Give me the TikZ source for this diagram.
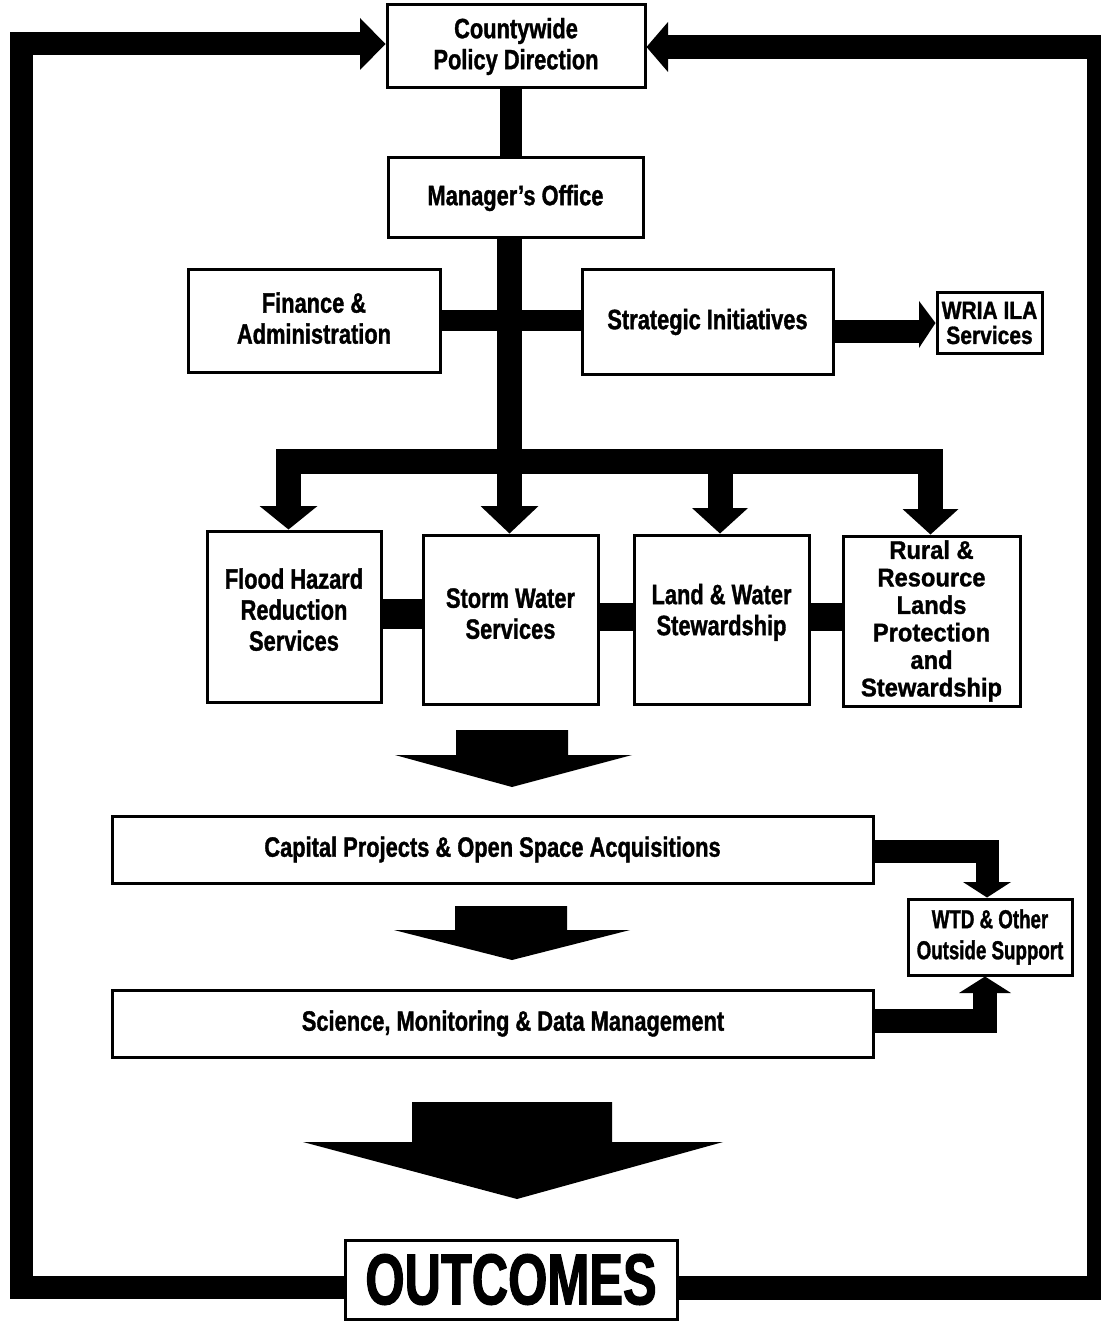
\documentclass[tikz,border=0pt]{standalone}
\usepackage{fontspec}
\setmainfont{Liberation Sans}
\newfontfamily\cfam{Liberation Sans}[FakeStretch=0.78, BoldFeatures={FakeBold=1.2}]
\newfontfamily\rfam{Liberation Sans}[FakeStretch=0.93, BoldFeatures={FakeBold=1.2}]
\newfontfamily\wfam{Liberation Sans}[FakeStretch=0.72, BoldFeatures={FakeBold=1.2}]
\newfontfamily\wrfam{Liberation Sans}[FakeStretch=0.84, BoldFeatures={FakeBold=1.2}]
\newfontfamily\ofam{Liberation Sans}[FakeStretch=0.70, BoldFeatures={FakeBold=1.5}]
\newcommand\mainf{\cfam\bfseries\fontsize{28}{31}\selectfont}
\newcommand\ruralf{\rfam\bfseries\fontsize{25.5}{27.5}\selectfont}
\newcommand\wtdf{\wfam\bfseries\fontsize{26}{31}\selectfont}
\newcommand\wriaf{\wrfam\bfseries\fontsize{25}{25}\selectfont}
\newcommand\outf{\ofam\bfseries\fontsize{72}{76}\selectfont}
\usetikzlibrary{calc,backgrounds}
\begin{document}
\begin{tikzpicture}[x=1pt,y=-1pt,
  box/.style={draw=black, line width=3pt, fill=white, align=center, inner sep=0pt, font=\mainf},
  bar/.style={draw=black, line cap=butt, line join=miter},
  head/.style={fill=black}]
\useasboundingbox (0,0) rectangle (1100,1321);
\clip (0,0) rectangle (1100,1321);

% ---------- nodes ----------
\node[box, minimum width=258pt, minimum height=83pt] (cpd) at (516,46.5) {Countywide\\Policy Direction};
\node[box, minimum width=255pt, minimum height=80pt] (mgr) at (515.5,198) {Manager’s Office};
\node[box, minimum width=252pt, minimum height=102pt, text depth=6pt] (fin) at (314,321) {Finance \&\\Administration};
\node[box, minimum width=251pt, minimum height=104pt] (strat) at (707.5,322) {Strategic Initiatives};
\node[box, minimum width=105pt, minimum height=60pt, font=\wriaf] (wria) at (989.5,323) {WRIA ILA\\Services};
\node[box, minimum width=174pt, minimum height=171pt, text depth=14pt] (flood) at (294,616.5) {Flood Hazard\\Reduction\\Services};
\node[box, minimum width=175pt, minimum height=169pt, text depth=12pt] (storm) at (510.5,619.5) {Storm Water\\Services};
\node[box, minimum width=175pt, minimum height=169pt, text depth=20pt] (land) at (721.5,619.5) {Land \& Water\\Stewardship};
\node[box, minimum width=177pt, minimum height=170pt, font=\ruralf] (rural) at (931.5,621) {Rural \&\\Resource\\Lands\\Protection\\and\\Stewardship};
\node[box, minimum width=761pt, minimum height=67pt] (cap) at (492.5,849.5) {Capital Projects \& Open Space Acquisitions};
\node[box, minimum width=761pt, minimum height=67pt] (sci) at (492.5,1023.5) {\hspace*{41pt}Science, Monitoring \& Data Management};
\node[box, minimum width=164pt, minimum height=76pt, font=\wtdf] (wtd) at (990,937) {WTD \& Other\\Outside Support};
\node[box, minimum width=332pt, minimum height=79pt, font=\outf] (out) at (511,1279.5) {OUTCOMES};

% ---------- helper coordinates ----------
\coordinate (c1) at (511,0);
\coordinate (sp) at (509.5,506);
\coordinate (fd) at (288.5,506);
\coordinate (ld) at (720,508);
\coordinate (rd) at (930.5,509);
\coordinate (busy) at (0,461);
\coordinate (b1) at (0,614);
\coordinate (b3) at (0,617);
\coordinate (fsy) at (0,320);
\coordinate (swb) at (919,331);
\coordinate (cw) at (987,882);
\coordinate (cwy) at (0,851);
\coordinate (sw) at (985,993);
\coordinate (swy) at (0,1021);
\coordinate (by) at (0,1287.5);
\coordinate (lc) at (21,44);
\coordinate (lh) at (360,44);
\coordinate (rc) at (1099,47);
\coordinate (rh) at (668,47);

\begin{pgfonlayer}{background}
\fill[white] (0,0) rectangle (1100,1321);
% Countywide -> Manager
\draw[bar, line width=22pt] (cpd.south -| c1) -- (mgr.north -| c1);
% Manager -> Storm (spine)
\draw[bar, line width=25pt] (mgr.south -| sp) -- (sp);
\fill[head] ($(sp)+(-29,0)$) -- ($(sp)+(29,0)$) -- (storm.north -| sp) -- cycle;
% bus with drops
\draw[bar, line width=25pt] (fd) -- (fd |- busy) -- (rd |- busy) -- (rd);
\draw[bar, line width=25pt] (ld |- busy) -- (ld);
\fill[head] ($(fd)+(-29,0)$) -- ($(fd)+(29,0)$) -- (flood.north -| fd) -- cycle;
\fill[head] ($(ld)+(-28,0)$) -- ($(ld)+(28,0)$) -- (land.north -| ld) -- cycle;
\fill[head] ($(rd)+(-28,0)$) -- ($(rd)+(28,0)$) -- (rural.north -| rd) -- cycle;
% Finance - Strategic
\draw[bar, line width=21pt] (fin.east |- fsy) -- (strat.west |- fsy);
% Strategic -> WRIA
\draw[bar, line width=23pt] (strat.east |- swb) -- (swb);
\fill[head] (919,301) -- (wria.west) -- (919,348) -- cycle;
% row connectors
\draw[bar, line width=30pt] (flood.east |- b1) -- (storm.west |- b1);
\draw[bar, line width=28pt] (storm.east |- b3) -- (land.west |- b3);
\draw[bar, line width=28pt] (land.east |- b3) -- (rural.west |- b3);
% big arrows
\fill[head] (456,730) -- (568,730) -- (568,755) -- (632,755) -- (512,787) -- (395,755) -- (456,755) -- cycle;
\fill[head] (455,906) -- (567,906) -- (567,930) -- (630,930) -- (512,960) -- (394,930) -- (455,930) -- cycle;
\fill[head] (412,1102) -- (612,1102) -- (612,1142) -- (723,1142) -- (517,1199) -- (303,1142) -- (412,1142) -- cycle;
% Capital -> WTD
\draw[bar, line width=23pt] (cap.east |- cwy) -- (cw |- cwy) -- (cw);
\fill[head] ($(cw)+(-24,0)$) -- ($(cw)+(24,0)$) -- (wtd.north -| cw) -- cycle;
% Science -> WTD
\draw[bar, line width=24pt] (sci.east |- swy) -- (sw |- swy) -- (sw);
\fill[head] ($(sw)+(-26,0)$) -- ($(sw)+(26,0)$) -- (wtd.south -| sw) -- cycle;
% feedback loop
\draw[bar, line width=23pt] (out.west |- by) -- (lc |- by) -- (lc) -- (lh);
\fill[head] (360,18) -- (cpd.west |- lh) -- (360,70) -- cycle;
\draw[bar, line width=24pt] (out.east |- by) -- (rc |- by) -- (rc) -- (rh);
\fill[head] (668,22) -- (cpd.east |- rh) -- (668,72) -- cycle;
\end{pgfonlayer}
\end{tikzpicture}
\end{document}
